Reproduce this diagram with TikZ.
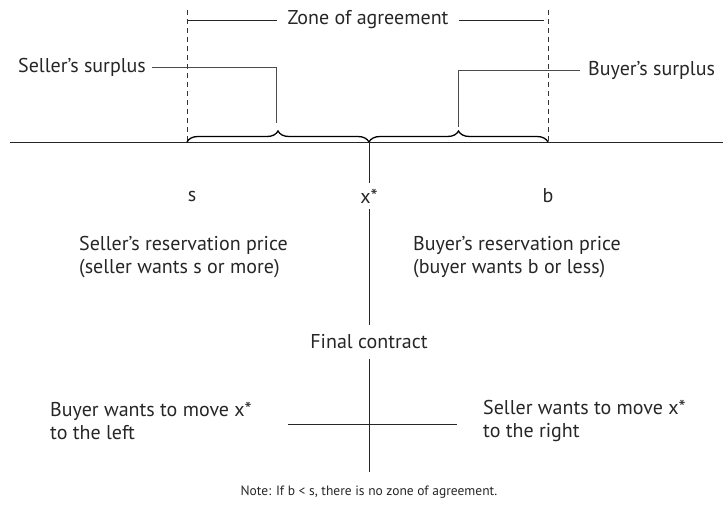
\documentclass[tikz,border=0pt]{standalone}
\usepackage{fontspec}
\setmainfont{PT Sans}
\usetikzlibrary{decorations.pathreplacing}
\begin{document}
\begin{tikzpicture}[x=1pt,y=-1pt,
  lbl/.style={inner sep=0pt,font=\fontsize{20}{22.5}\selectfont,text=black!85},
  lbltwo/.style={lbl,align=left},
  note/.style={inner sep=0pt,font=\fontsize{13.5}{16}\selectfont,text=black!85},
  ln/.style={line width=0.8pt,black!85},
  guide/.style={line width=0.7pt,black!80,dash pattern=on 5pt off 4pt},
  bracestyle/.style={line width=1.3pt,decorate,decoration={brace,amplitude=11pt}}]
\useasboundingbox (0,0) rectangle (723,507);

% axis and the zone limits
\coordinate (axL) at (10,142);
\coordinate (axR) at (723,142);
\coordinate (sPt) at (187,142);
\coordinate (xPt) at (369,142);
\coordinate (bPt) at (548,142);
\coordinate (sTop) at (187,10);
\coordinate (bTop) at (548,10);
\draw[ln] (axL) -- (axR);
\draw[guide] (sTop) -- (sPt);
\draw[guide] (bTop) -- (bPt);

% zone of agreement bar
\node[lbl,inner xsep=10pt] (zone) at (368,20) {Zone of agreement};
\coordinate (zL) at (188,20);
\coordinate (zR) at (544,20);
\draw[ln] (zL) -- (zone.west);
\draw[ln] (zone.east) -- (zR);

% surplus braces
\draw[bracestyle] (sPt) -- (xPt);
\draw[bracestyle] (xPt) -- (bPt);

% surplus labels
\node[lbl,anchor=west] (ss) at (18,67) {Seller’s surplus};
\coordinate (ssTip) at (276,123);
\draw[ln,black!70] (ss.east) ++(6pt,0) -| (ssTip);
\node[lbl,anchor=west] (bs) at (588,70) {Buyer’s surplus};
\coordinate (bsTip) at (458,127);
\draw[ln,black!70] (bs.west) ++(-8pt,0) -| (bsTip);

% point labels
\node[lbl] (s) at (192,196) {s};
\node[lbl,inner ysep=6pt] (x) at (369,196) {x*};
\node[lbl] (b) at (548,196) {b};

\node[lbltwo,anchor=west] (srp) at (79,257) {Seller’s reservation price\\(seller wants s or more)};
\node[lbltwo,anchor=west] (brp) at (413,257) {Buyer’s reservation price\\(buyer wants b or less)};

% final contract
\node[lbl,inner ysep=10pt] (fc) at (369,342) {Final contract};
\coordinate (fcBot) at (369,472);
\draw[ln] (xPt) -- (x.north);
\draw[ln] (x.south) -- (fc.north);
\draw[ln] (fc.south) -- (fcBot);
\coordinate (hL) at (288,424);
\coordinate (hR) at (457,424);
\draw[ln] (hL) -- (hR);

\node[lbltwo,anchor=west] (bm) at (50,421) {Buyer wants to move x*\\to the left};
\node[lbltwo,anchor=west] (sm) at (483,421) {Seller wants to move x*\\to the right};

\node[note] (nt) at (369,492) {Note: If b < s, there is no zone of agreement.};
\end{tikzpicture}
\end{document}
